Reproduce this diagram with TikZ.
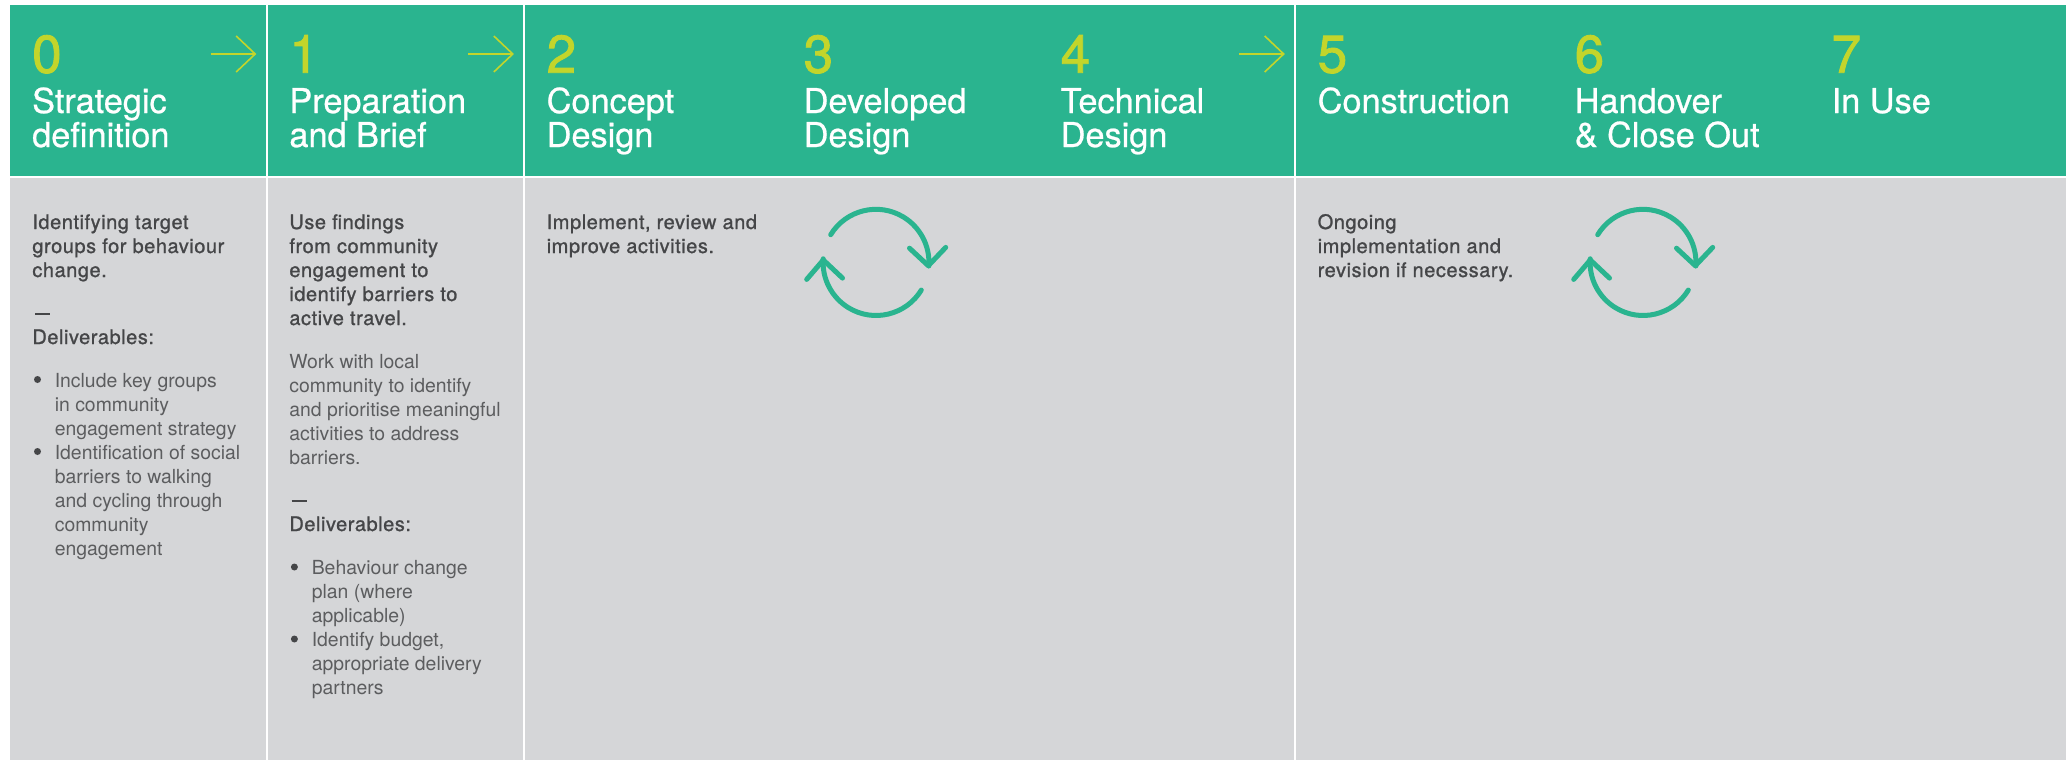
\documentclass[tikz,border=0pt]{standalone}
\usepackage{fontspec}
\setmainfont{TeX Gyre Heros}
\newfontfamily\medfont[FakeBold=1.1,LetterSpace=2.7]{TeX Gyre Heros}
\newfontfamily\headfont[FakeBold=0.7]{TeX Gyre Heros}
\newfontfamily\numfont[FakeBold=1.6]{TeX Gyre Heros}
\definecolor{hdgreen}{HTML}{2AB48F}
\definecolor{panelgrey}{HTML}{D5D6D8}
\definecolor{lime}{HTML}{C3D52B}
\definecolor{darktext}{HTML}{454648}
\definecolor{lighttext}{HTML}{5C5D5F}
\tikzset{
  x=1pt,y=-1pt,
  hdrbox/.style={fill=hdgreen,draw=none},
  bodybox/.style={fill=panelgrey,draw=none},
  numtext/.style={anchor=base west,inner sep=0pt,font=\fontsize{53}{53}\numfont,text=lime},
  titletext/.style={anchor=base west,inner sep=0pt,font=\fontsize{34.3}{34}\headfont,text=white},
  strongtext/.style={anchor=base west,inner sep=0pt,font=\fontsize{20}{24}\medfont,text=darktext},
  plaintext/.style={anchor=base west,inner sep=0pt,font=\fontsize{19.4}{24}\selectfont,text=lighttext},
  barline/.style={draw=lime,line width=1.6pt},
  cycline/.style={draw=hdgreen,line width=5pt,line cap=round,line join=round},
  dashrule/.style={draw=darktext,line width=2.2pt},
  dot/.style={circle,fill=darktext,inner sep=0pt,minimum size=7pt}
}
\newcommand{\lines}[5]{% style, name, x, first baseline, list
  \foreach \t [count=\i from 0] in {#5}{
    \node[#1] (#2\i) at (#3,{#4+24*\i}) {\t};
  }
}
\newcommand{\headcol}[4]{% number, x, line 1, line 2
  \node[numtext] (num#1) at (#2,72.7) {#1};
  \node[titletext] (tia#1) at (#2,113) {#3};
  \node[titletext] (tib#1) at (#2,147) {#4};
}
\newcommand{\flow}[2]{% name, tip x
  \coordinate (#1t) at (#2,54);
  \coordinate (#1s) at (#2-44.5,54);
  \coordinate (#1a) at (#2-19,36);
  \coordinate (#1b) at (#2-19,72);
  \draw[barline] (#1s) -- (#1t);
  \draw[barline] (#1a) -- (#1t) -- (#1b);
}
\newcommand{\cyc}[2]{% centre x, centre y
  \begin{scope}[shift={(#1,#2)}]
    \draw[cycline] (-45.3,-27.7) arc[start angle=-148.6,end angle=4,radius=53];
    \draw[cycline] (45.3,27.7) arc[start angle=31.4,end angle=184,radius=53];
    \draw[cycline] (33.5,-14.2) -- (52.3,3.3) -- (69.7,-15);
    \draw[cycline] (-33.5,15.7) -- (-52.7,-2.4) -- (-69.3,17);
  \end{scope}
}
\begin{document}
\begin{tikzpicture}
\useasboundingbox (0,0) rectangle (2072,760);
\fill[white] (0,0) rectangle (2072,760);
\foreach \a/\b/\n in {9.6/265.5/p,268/522.7/q,524.8/1293.7/r,1296/2066/s}{
  \path[hdrbox] (\a,5) rectangle (\b,175.5);
  \path[bodybox] (\a,178) rectangle (\b,760);
}
\headcol{0}{32}{Strategic}{definition}
\headcol{1}{289.2}{Preparation}{and Brief}
\headcol{2}{546.5}{Concept}{Design}
\headcol{3}{803.5}{Developed}{Design}
\headcol{4}{1060.5}{Technical}{Design}
\headcol{5}{1317.5}{Construction}{}
\headcol{6}{1574.5}{Handover}{\& Close Out}
\headcol{7}{1831.5}{In Use}{}
\flow{fa}{255.2}
\flow{fb}{512.8}
\flow{fc}{1283.7}
% column 0
\lines{strongtext}{ca}{32.2}{229}{Identifying target,groups for behaviour,change.}
\coordinate (dal) at (35,314); \coordinate (dar) at (50,314);
\draw[dashrule] (dal) -- (dar);
\node[strongtext] (cad) at (32.2,344) {Deliverables:};
\node[dot] (cab1) at (37.5,379.5) {};
\lines{plaintext}{cb}{54.6}{387}{Include key groups,in community,engagement strategy}
\node[dot] (cab2) at (37.5,451.5) {};
\lines{plaintext}{cc}{54.6}{459}{Identification of social,barriers to walking,and cycling through,community,engagement}
% column 1
\lines{strongtext}{da}{289.2}{229}{Use findings,from community,engagement to,identify barriers to,active travel.}
\lines{plaintext}{db}{289.2}{368}{Work with local,community to identify,and prioritise meaningful,activities to address,barriers.}
\coordinate (dbl) at (291.7,501); \coordinate (dbr) at (306.5,501);
\draw[dashrule] (dbl) -- (dbr);
\node[strongtext] (dad) at (289.2,531) {Deliverables:};
\node[dot] (dab1) at (294.4,567) {};
\lines{plaintext}{dc}{311.6}{574}{Behaviour change,plan (where,applicable)}
\node[dot] (dab2) at (294.4,639) {};
\lines{plaintext}{dd}{311.6}{646}{{Identify budget,},appropriate delivery,partners}
% column 2
\lines{strongtext}{ea}{546.5}{229}{{Implement, review and},improve activities.}
\cyc{876}{262.4}
% column 5
\lines{strongtext}{fd}{1317.5}{229}{Ongoing,implementation and,revision if necessary.}
\cyc{1643}{262.4}
\end{tikzpicture}
\end{document}
